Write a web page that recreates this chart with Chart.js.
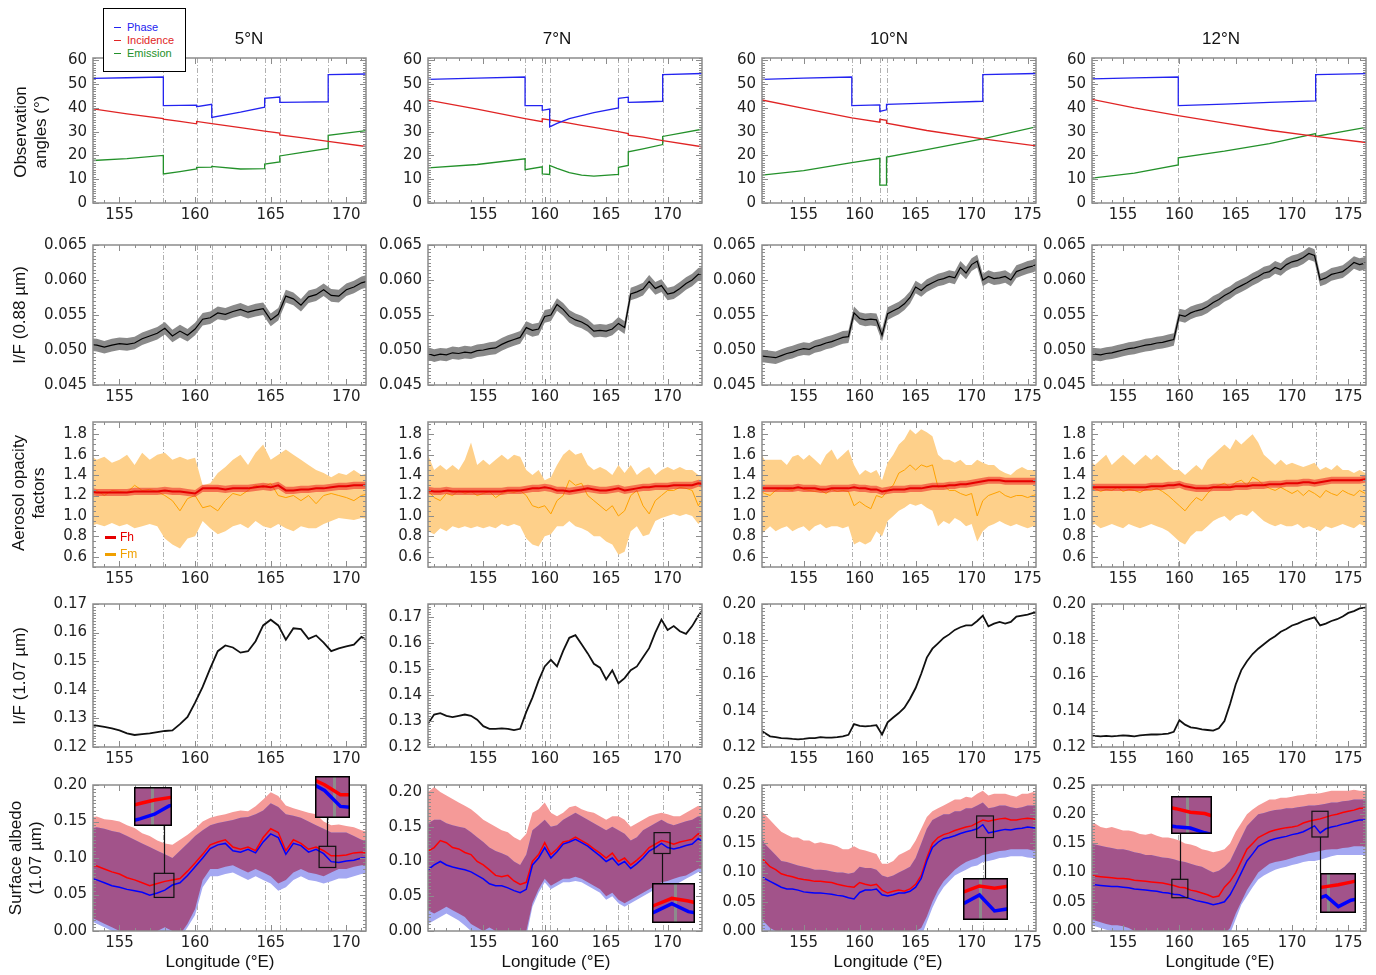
<!DOCTYPE html>
<html>
<head>
<meta charset="utf-8">
<script src="https://cdn.jsdelivr.net/npm/chart.js@4/dist/chart.umd.min.js"></script>
<style>
  body { margin: 0; background: #fff; width: 1376px; height: 975px; position: relative; overflow: hidden;
         font-family: "Liberation Sans", Arial, sans-serif; color: #111; }
  canvas { position: absolute; }
  .txt { position: absolute; white-space: nowrap; transform: translate(-50%, -50%); z-index: 5; }
  .rot { transform: translate(-50%, -50%) rotate(-90deg); text-align: center; line-height: 20px; }
</style>
</head>
<body>
<script>
// ---------- tick labels ----------
const angTicks = [0, 10, 20, 30, 40, 50, 60];
const nearTicks = [0.045, 0.050, 0.055, 0.060, 0.065];
const aerTicks = [0.6, 0.8, 1.0, 1.2, 1.4, 1.6, 1.8];
const farTicksA = [0.12, 0.13, 0.14, 0.15, 0.16, 0.17];
const farTicksB = [0.12, 0.14, 0.16, 0.18, 0.20];
const albTicksA = [0.00, 0.05, 0.10, 0.15, 0.20];
const albTicksB = [0.00, 0.05, 0.10, 0.15, 0.20, 0.25];
const lonTicksA = [155, 160, 165, 170];
const lonTicksB = [155, 160, 165, 170, 175];

// segment boundaries (°E)
const edges5 = [157.9, 160.1, 161.1, 164.6, 165.6, 168.8];
const edges7 = [158.4, 159.8, 160.4, 166.0, 166.8, 169.6];
const edges10 = [159.3, 161.8, 162.4, 171.0];
const edges12 = [159.9, 172.1];

// ---------- observation angles ----------
const angLon5 = [153.0, 155.5, 157.9, 157.9, 159.0, 160.1, 160.1, 161.1, 161.1, 163.0, 164.6, 164.6, 165.6, 165.6, 167.0, 168.8, 168.8, 171.5];
const phase5 = [52.4, 52.7, 53.0, 41.0, 41.1, 41.2, 40.5, 41.5, 36.0, 38.2, 40.3, 44.0, 44.6, 42.3, 42.4, 42.6, 54.0, 54.3];
const incid5 = [39.8, 37.5, 35.5, 35.3, 34.3, 33.3, 34.3, 33.4, 33.4, 31.7, 30.2, 30.2, 29.4, 28.6, 27.5, 25.9, 25.9, 23.6];
const emiss5 = [17.8, 18.7, 20.0, 12.2, 13.2, 14.3, 15.0, 15.1, 15.4, 14.3, 14.5, 16.4, 17.3, 19.8, 21.2, 23.0, 28.5, 30.6];

const angLon7 = [150.5, 154.5, 158.4, 158.4, 159.8, 159.8, 160.4, 160.4, 161.0, 162.0, 163.0, 164.0, 166.0, 166.0, 166.8, 166.8, 168.0, 169.6, 169.6, 173.0];
const phase7 = [52.0, 52.5, 53.0, 41.0, 41.0, 39.0, 39.5, 32.0, 33.5, 35.5, 36.8, 38.0, 40.0, 44.0, 44.5, 42.3, 42.5, 42.8, 54.0, 54.5];
const incid7 = [43.3, 39.5, 35.5, 35.5, 34.2, 35.4, 35.0, 35.0, 34.5, 33.6, 32.7, 31.8, 30.0, 30.0, 29.2, 28.5, 27.7, 26.2, 26.2, 23.5];
const emiss7 = [14.8, 16.2, 18.6, 14.0, 15.2, 12.2, 12.0, 15.8, 14.6, 12.8, 11.7, 11.3, 12.0, 15.0, 15.8, 21.5, 22.8, 24.6, 28.0, 31.2];

const angLon10 = [151.0, 155.0, 159.3, 159.3, 161.8, 161.8, 162.4, 162.4, 166.0, 171.0, 171.0, 176.0];
const phase10 = [52.0, 52.5, 53.0, 41.0, 41.3, 38.5, 39.2, 41.5, 42.0, 42.8, 54.0, 54.5];
const incid10 = [43.6, 39.8, 35.8, 35.8, 34.0, 35.2, 34.8, 33.6, 30.5, 27.0, 27.0, 23.9];
const emiss10 = [11.6, 13.6, 17.0, 17.0, 18.8, 7.5, 7.5, 19.3, 22.5, 27.0, 27.0, 32.3];

const angLon12 = [152.0, 156.0, 159.9, 159.9, 164.0, 168.0, 172.1, 172.1, 177.0];
const phase12 = [52.2, 52.6, 53.0, 41.0, 41.6, 42.3, 43.0, 54.0, 54.5];
const incid12 = [43.8, 40.0, 36.8, 36.8, 33.6, 30.6, 28.0, 28.0, 25.2];
const emiss12 = [10.3, 12.6, 16.0, 19.0, 21.8, 25.0, 29.2, 28.0, 32.2];

// ---------- 5°N profiles ----------
const lon5 = [153.0, 153.5, 154.0, 154.5, 155.0, 155.5, 156.0, 156.5, 157.0, 157.5, 158.0, 158.5, 159.0, 159.5, 160.0, 160.5, 161.0, 161.5, 162.0, 162.5,
  163.0, 163.5, 164.0, 164.5, 165.0, 165.5, 166.0, 166.5, 167.0, 167.5, 168.0, 168.5, 169.0, 169.5, 170.0, 170.5, 171.0, 171.5];
const ifNear5 = [.0508, .0507, .0504, .0507, .0509, .0508, .0510, .0516, .0520, .0524, .0531, .0520, .0527, .0521, .0530, .0544, .0546, .0553, .0551, .0555,
  .0558, .0554, .0557, .0559, .0543, .0551, .0577, .0573, .0564, .0576, .0579, .0586, .0578, .0577, .0586, .0590, .0596, .0599];
const fh5 = [1.24, 1.23, 1.23, 1.23, 1.23, 1.23, 1.24, 1.24, 1.24, 1.24, 1.25, 1.24, 1.24, 1.23, 1.22, 1.27, 1.27, 1.27, 1.26, 1.27,
  1.27, 1.27, 1.28, 1.29, 1.28, 1.30, 1.25, 1.25, 1.26, 1.26, 1.27, 1.27, 1.28, 1.29, 1.29, 1.30, 1.30, 1.30];
const fm5 = [1.22, 1.25, 1.20, 1.25, 1.24, 1.23, 1.30, 1.25, 1.26, 1.24, 1.20, 1.15, 1.05, 1.17, 1.20, 1.08, 1.10, 1.05, 1.15, 1.22,
  1.20, 1.25, 1.30, 1.28, 1.32, 1.20, 1.18, 1.20, 1.15, 1.20, 1.12, 1.20, 1.22, 1.20, 1.18, 1.15, 1.20, 1.22];
const fmHi5 = [1.60, 1.55, 1.58, 1.52, 1.55, 1.60, 1.50, 1.62, 1.55, 1.60, 1.62, 1.55, 1.58, 1.55, 1.57, 1.30, 1.32, 1.42, 1.48, 1.55,
  1.60, 1.50, 1.62, 1.70, 1.55, 1.60, 1.65, 1.60, 1.55, 1.50, 1.45, 1.42, 1.38, 1.42, 1.40, 1.45, 1.40, 1.42];
const fmLo5 = [0.90, 0.92, 0.90, 0.93, 0.90, 0.92, 0.88, 0.90, 0.92, 0.90, 0.78, 0.72, 0.68, 0.78, 0.80, 0.95, 0.88, 0.82, 0.85, 0.90,
  0.92, 0.88, 0.95, 0.90, 0.88, 0.92, 0.88, 0.85, 0.90, 0.88, 0.88, 0.92, 0.95, 0.98, 0.97, 0.96, 0.98, 0.97];
const ifFar5 = [.1275, .1275, .1270, .1265, .1258, .1248, .1242, .1245, .1248, .1252, .1256, .1258, .1280, .1305, .1355, .1410, .1475, .1535, .1555, .1548,
  .1530, .1535, .1570, .1625, .1645, .1625, .1575, .1615, .1612, .1578, .1590, .1565, .1535, .1545, .1552, .1558, .1585, .1570];
const albRed5 = [.090, .089, .085, .081, .078, .073, .070, .066, .062, .065, .068, .070, .072, .082, .093, .105, .118, .122, .125, .115,
  .112, .115, .110, .128, .140, .135, .110, .125, .120, .112, .115, .110, .103, .103, .104, .107, .108, .106];
const albBlue5 = [.073, .070, .066, .062, .060, .057, .055, .053, .049, .052, .056, .063, .066, .076, .088, .100, .113, .118, .120, .110,
  .108, .112, .107, .122, .133, .128, .105, .120, .117, .108, .112, .106, .095, .094, .096, .097, .100, .100];
const albRedHi5 = [.155, .157, .153, .152, .150, .145, .141, .134, .130, .124, .120, .118, .125, .132, .140, .150, .155, .158, .160, .163,
  .165, .164, .171, .180, .190, .185, .172, .168, .165, .162, .160, .150, .145, .146, .144, .142, .138, .135];
const albBlueHi5 = [.140, .142, .140, .137, .135, .130, .125, .120, .115, .110, .105, .100, .110, .120, .130, .138, .145, .148, .150, .152,
  .155, .156, .160, .165, .175, .170, .160, .158, .155, .150, .145, .140, .135, .135, .135, .130, .125, .122];
const albRedLo5 = [.020, .015, .010, .005, .000, .000, -.005, -.005, -.005, .000, .005, .000, -.005, .010, .030, .070, .085, .085, .088, .090,
  .085, .080, .085, .080, .075, .065, .070, .080, .085, .080, .078, .075, .080, .085, .085, .088, .090, .090];
const albBlueLo5 = [.015, .010, .005, .000, -.005, -.005, -.010, -.010, -.010, -.005, .000, -.005, -.010, .005, .022, .060, .075, .075, .078, .080,
  .075, .070, .075, .070, .065, .055, .060, .070, .075, .070, .068, .065, .068, .072, .072, .075, .078, .078];

// ---------- 7°N profiles ----------
const lon7 = [150.5, 151.0, 151.5, 152.0, 152.5, 153.0, 153.5, 154.0, 154.5, 155.0, 155.5, 156.0, 156.5, 157.0, 157.5, 158.0, 158.5, 159.0, 159.5, 160.0,
  160.5, 161.0, 161.5, 162.0, 162.5, 163.0, 163.5, 164.0, 164.5, 165.0, 165.5, 166.0, 166.5, 167.0, 167.5, 168.0, 168.5, 169.0, 169.5, 170.0,
  170.5, 171.0, 171.5, 172.0, 172.5, 173.0];
const ifNear7 = [.0495, .0492, .0494, .0493, .0496, .0495, .0497, .0496, .0499, .0500, .0502, .0503, .0508, .0512, .0515, .0518, .0532, .0528, .0530, .0548,
  .0550, .0565, .0558, .0548, .0543, .0540, .0535, .0527, .0528, .0527, .0530, .0538, .0532, .0580, .0583, .0587, .0598, .0588, .0592, .0580,
  .0582, .0588, .0595, .0600, .0608, .0610];
const fh7 = [1.25, 1.24, 1.24, 1.25, 1.24, 1.24, 1.24, 1.24, 1.24, 1.24, 1.24, 1.24, 1.24, 1.25, 1.25, 1.25, 1.26, 1.27, 1.27, 1.28,
  1.27, 1.25, 1.25, 1.24, 1.25, 1.26, 1.27, 1.26, 1.25, 1.25, 1.26, 1.27, 1.25, 1.26, 1.27, 1.28, 1.28, 1.29, 1.29, 1.29,
  1.30, 1.30, 1.30, 1.30, 1.32, 1.31];
const fm7 = [1.25, 1.18, 1.15, 1.22, 1.20, 1.25, 1.22, 1.24, 1.20, 1.22, 1.24, 1.18, 1.22, 1.24, 1.23, 1.25, 1.20, 1.10, 1.08, 1.10,
  1.02, 1.15, 1.20, 1.35, 1.30, 1.32, 1.20, 1.15, 1.10, 1.05, 1.10, 1.00, 1.05, 1.20, 1.25, 1.10, 1.02, 1.15, 1.20, 1.25,
  1.25, 1.28, 1.27, 1.25, 1.10, 1.20];
const fmHi7 = [1.60, 1.45, 1.50, 1.45, 1.50, 1.45, 1.55, 1.72, 1.50, 1.55, 1.50, 1.55, 1.60, 1.55, 1.60, 1.58, 1.45, 1.40, 1.45, 1.35,
  1.38, 1.50, 1.60, 1.65, 1.60, 1.62, 1.50, 1.45, 1.48, 1.45, 1.40, 1.50, 1.42, 1.50, 1.40, 1.45, 1.48, 1.40, 1.45, 1.48,
  1.45, 1.48, 1.45, 1.45, 1.40, 1.38];
const fmLo7 = [0.85, 0.82, 0.88, 0.85, 0.90, 0.88, 0.90, 0.88, 0.90, 0.88, 0.90, 0.88, 0.92, 0.90, 0.92, 0.90, 0.78, 0.72, 0.70, 0.80,
  0.82, 0.90, 0.90, 0.95, 0.90, 0.88, 0.85, 0.80, 0.80, 0.75, 0.72, 0.62, 0.65, 0.85, 0.90, 0.80, 0.82, 0.95, 0.98, 1.00,
  1.02, 1.00, 1.02, 1.00, 0.92, 0.98];
const ifFar7 = [.1290, .1325, .1330, .1320, .1315, .1320, .1325, .1320, .1305, .1280, .1270, .1270, .1272, .1270, .1265, .1270, .1335, .1390, .1455, .1510,
  .1535, .1510, .1570, .1620, .1630, .1595, .1560, .1520, .1505, .1460, .1495, .1445, .1465, .1495, .1510, .1545, .1580, .1640, .1690, .1650,
  .1665, .1645, .1635, .1665, .1705, .1735];
const albRed7 = [.115, .120, .130, .127, .120, .118, .113, .110, .100, .095, .088, .080, .078, .080, .072, .067, .070, .100, .110, .127,
  .110, .118, .128, .130, .135, .130, .125, .118, .112, .105, .112, .100, .105, .095, .102, .110, .120, .125, .130, .128,
  .125, .128, .130, .132, .140, .133];
const albBlue7 = [.088, .095, .100, .095, .092, .090, .088, .085, .080, .075, .068, .065, .065, .062, .058, .055, .060, .095, .105, .120,
  .105, .114, .125, .128, .132, .127, .122, .115, .108, .100, .105, .095, .100, .090, .097, .105, .115, .120, .126, .120,
  .118, .120, .123, .125, .133, .127];
const albRedHi7 = [.200, .207, .200, .195, .190, .185, .180, .175, .168, .160, .155, .150, .145, .142, .135, .130, .140, .170, .175, .185,
  .170, .165, .170, .178, .180, .175, .172, .170, .165, .160, .165, .165, .160, .150, .155, .160, .165, .168, .170, .168,
  .165, .165, .170, .175, .180, .175];
const albBlueHi7 = [.155, .160, .160, .155, .152, .150, .148, .142, .135, .128, .120, .115, .112, .108, .100, .095, .110, .145, .152, .160,
  .150, .152, .160, .165, .170, .165, .160, .155, .150, .145, .150, .145, .140, .130, .135, .145, .150, .155, .160, .155,
  .152, .155, .158, .160, .165, .160];
const albRedLo7 = [.030, .025, .030, .035, .030, .025, .020, .010, .005, .000, .005, .000, -.005, .000, -.005, -.005, .000, .040, .060, .075,
  .065, .070, .075, .075, .078, .075, .070, .065, .060, .050, .055, .045, .040, .045, .050, .055, .060, .065, .070, .072,
  .075, .078, .080, .085, .090, .088];
const albBlueLo7 = [.010, .015, .020, .025, .020, .015, .008, .000, -.005, -.008, -.005, -.008, -.010, -.008, -.010, -.010, -.008, .035, .055, .070,
  .060, .065, .070, .070, .072, .070, .065, .060, .055, .045, .050, .040, .035, .040, .045, .050, .055, .060, .065, .065,
  .065, .070, .075, .080, .085, .080];

// ---------- 10°N profiles ----------
const lon10 = [151.0, 151.5, 152.0, 152.5, 153.0, 153.5, 154.0, 154.5, 155.0, 155.5, 156.0, 156.5, 157.0, 157.5, 158.0, 158.5, 159.0, 159.5, 160.0, 160.5,
  161.0, 161.5, 162.0, 162.5, 163.0, 163.5, 164.0, 164.5, 165.0, 165.5, 166.0, 166.5, 167.0, 167.5, 168.0, 168.5, 169.0, 169.5, 170.0, 170.5,
  171.0, 171.5, 172.0, 172.5, 173.0, 173.5, 174.0, 174.5, 175.0, 175.5, 176.0];
const ifNear10 = [.0492, .0491, .0490, .0489, .0492, .0495, .0497, .0500, .0502, .0501, .0505, .0507, .0510, .0512, .0515, .0518, .0519, .0553, .0545, .0543,
  .0544, .0543, .0521, .0552, .0556, .0560, .0566, .0575, .0590, .0585, .0592, .0596, .0600, .0602, .0605, .0603, .0618, .0610, .0622, .0627,
  .0600, .0605, .0602, .0603, .0605, .0600, .0612, .0615, .0618, .0620, .0624];
const fh10 = [1.27, 1.27, 1.27, 1.27, 1.27, 1.27, 1.27, 1.28, 1.27, 1.27, 1.27, 1.26, 1.26, 1.27, 1.27, 1.27, 1.27, 1.28, 1.27, 1.27,
  1.26, 1.26, 1.24, 1.25, 1.26, 1.26, 1.26, 1.27, 1.27, 1.27, 1.28, 1.29, 1.29, 1.29, 1.30, 1.30, 1.31, 1.31, 1.32, 1.33,
  1.34, 1.35, 1.35, 1.35, 1.34, 1.34, 1.34, 1.34, 1.34, 1.34, 1.34];
const fm10 = [1.25, 1.22, 1.20, 1.25, 1.27, 1.26, 1.25, 1.28, 1.26, 1.25, 1.24, 1.25, 1.22, 1.26, 1.24, 1.25, 1.24, 1.10, 1.14, 1.10,
  1.07, 1.20, 1.18, 1.25, 1.30, 1.42, 1.45, 1.50, 1.45, 1.50, 1.48, 1.50, 1.28, 1.30, 1.25, 1.25, 1.22, 1.20, 1.22, 1.00,
  1.15, 1.20, 1.22, 1.24, 1.20, 1.18, 1.20, 1.20, 1.18, 1.20, 1.22];
const fmHi10 = [1.65, 1.55, 1.55, 1.55, 1.55, 1.50, 1.58, 1.60, 1.55, 1.60, 1.55, 1.50, 1.60, 1.65, 1.55, 1.60, 1.65, 1.50, 1.40, 1.45,
  1.42, 1.45, 1.35, 1.52, 1.60, 1.70, 1.75, 1.85, 1.80, 1.85, 1.82, 1.78, 1.60, 1.55, 1.55, 1.52, 1.55, 1.50, 1.50, 1.55,
  1.52, 1.50, 1.50, 1.45, 1.42, 1.40, 1.45, 1.48, 1.45, 1.45, 1.42];
const fmLo10 = [0.80, 0.85, 0.90, 0.85, 0.88, 0.90, 0.85, 0.88, 0.90, 0.85, 0.90, 0.92, 0.88, 0.90, 0.90, 0.88, 0.90, 0.72, 0.75, 0.72,
  0.75, 0.85, 0.80, 0.95, 1.00, 1.05, 1.08, 1.12, 1.10, 1.12, 1.08, 1.05, 0.90, 0.95, 0.92, 0.98, 0.95, 0.90, 0.92, 0.75,
  0.85, 0.90, 0.92, 0.95, 0.92, 0.90, 0.92, 0.90, 0.88, 0.90, 0.90];
const ifFar10 = [.1300, .1280, .1260, .1255, .1250, .1248, .1245, .1243, .1245, .1250, .1250, .1255, .1253, .1252, .1255, .1260, .1268, .1328, .1318, .1315,
  .1318, .1322, .1270, .1338, .1365, .1390, .1420, .1470, .1530, .1610, .1700, .1750, .1780, .1810, .1830, .1855, .1870, .1880, .1880, .1905,
  .1935, .1875, .1890, .1900, .1890, .1900, .1930, .1935, .1940, .1950, .1955];
const albRed10 = [.130, .120, .110, .105, .098, .095, .093, .090, .088, .087, .085, .085, .084, .083, .080, .078, .076, .075, .083, .080,
  .078, .080, .070, .065, .068, .070, .068, .072, .080, .095, .125, .150, .160, .165, .168, .172, .175, .178, .180, .185,
  .190, .188, .190, .192, .193, .190, .190, .192, .193, .192, .190];
const albBlue10 = [.098, .090, .085, .080, .075, .072, .072, .070, .067, .066, .065, .065, .064, .063, .061, .060, .057, .055, .066, .070,
  .070, .072, .062, .060, .062, .065, .065, .068, .075, .090, .120, .143, .152, .158, .160, .163, .167, .170, .172, .175,
  .182, .168, .170, .172, .174, .173, .175, .176, .178, .177, .176];
const albRedHi10 = [.210, .200, .190, .180, .170, .165, .160, .160, .155, .155, .150, .152, .150, .148, .145, .140, .140, .145, .140, .138,
  .135, .132, .115, .115, .120, .130, .135, .140, .155, .175, .195, .205, .210, .215, .220, .225, .225, .230, .228, .235,
  .240, .232, .235, .235, .235, .232, .230, .235, .235, .238, .235];
const albBlueHi10 = [.170, .150, .140, .130, .120, .118, .115, .112, .110, .108, .105, .105, .104, .102, .100, .100, .098, .100, .110, .108,
  .108, .105, .095, .092, .095, .100, .105, .110, .125, .150, .175, .190, .195, .200, .200, .205, .205, .210, .210, .215,
  .220, .210, .212, .215, .215, .212, .210, .212, .215, .215, .212];
const albRedLo10 = [.030, .015, .005, .000, -.005, .000, -.005, .000, -.005, -.005, -.005, -.005, -.005, -.005, -.005, -.005, -.005, -.005, -.005, -.005,
  -.005, -.005, -.005, -.005, -.005, -.005, -.005, -.005, .000, .005, .025, .050, .070, .085, .095, .105, .112, .118, .122, .125,
  .130, .132, .135, .137, .138, .140, .140, .140, .140, .138, .138];
const albBlueLo10 = [.005, .000, -.010, -.010, -.010, -.010, -.010, -.010, -.010, -.010, -.010, -.010, -.010, -.010, -.010, -.010, -.010, -.010, -.010, -.010,
  -.010, -.010, -.010, -.010, -.010, -.010, -.010, -.010, -.010, -.010, .015, .040, .060, .075, .085, .095, .100, .105, .110, .112,
  .118, .120, .122, .125, .126, .128, .128, .128, .126, .125, .125];

// ---------- 12°N profiles ----------
const lon12 = [152.0, 152.5, 153.0, 153.5, 154.0, 154.5, 155.0, 155.5, 156.0, 156.5, 157.0, 157.5, 158.0, 158.5, 159.0, 159.5, 160.0, 160.5, 161.0, 161.5,
  162.0, 162.5, 163.0, 163.5, 164.0, 164.5, 165.0, 165.5, 166.0, 166.5, 167.0, 167.5, 168.0, 168.5, 169.0, 169.5, 170.0, 170.5, 171.0, 171.5,
  172.0, 172.5, 173.0, 173.5, 174.0, 174.5, 175.0, 175.5, 176.0, 176.5, 177.0];
const ifNear12 = [.0495, .0494, .0493, .0495, .0496, .0498, .0500, .0502, .0503, .0505, .0507, .0508, .0510, .0511, .0513, .0515, .0550, .0548, .0553, .0556,
  .0558, .0562, .0568, .0572, .0578, .0582, .0588, .0592, .0596, .0601, .0605, .0610, .0612, .0618, .0615, .0622, .0626, .0628, .0632, .0638,
  .0635, .0600, .0603, .0608, .0610, .0612, .0618, .0625, .0622, .0624, .0626];
const fh12 = [1.28, 1.28, 1.28, 1.28, 1.28, 1.28, 1.28, 1.28, 1.28, 1.28, 1.28, 1.29, 1.29, 1.29, 1.30, 1.30, 1.31, 1.29, 1.28, 1.27,
  1.27, 1.27, 1.28, 1.28, 1.28, 1.28, 1.29, 1.29, 1.29, 1.30, 1.30, 1.30, 1.31, 1.31, 1.31, 1.32, 1.32, 1.32, 1.33, 1.33,
  1.32, 1.33, 1.34, 1.35, 1.35, 1.35, 1.35, 1.35, 1.35, 1.36, 1.36];
const fm12 = [1.25, 1.27, 1.24, 1.26, 1.25, 1.28, 1.24, 1.26, 1.25, 1.23, 1.26, 1.25, 1.27, 1.24, 1.20, 1.15, 1.10, 1.05, 1.12, 1.18,
  1.15, 1.22, 1.28, 1.30, 1.32, 1.28, 1.33, 1.35, 1.30, 1.38, 1.35, 1.30, 1.27, 1.25, 1.28, 1.25, 1.22, 1.25, 1.20, 1.25,
  1.22, 1.18, 1.25, 1.22, 1.20, 1.25, 1.22, 1.20, 1.25, 1.22, 1.25];
const fmHi12 = [1.55, 1.50, 1.55, 1.60, 1.50, 1.55, 1.60, 1.55, 1.50, 1.55, 1.60, 1.55, 1.60, 1.55, 1.50, 1.45, 1.45, 1.40, 1.45, 1.50,
  1.45, 1.55, 1.60, 1.65, 1.70, 1.65, 1.75, 1.70, 1.75, 1.80, 1.72, 1.60, 1.55, 1.50, 1.55, 1.50, 1.52, 1.50, 1.48, 1.50,
  1.52, 1.45, 1.48, 1.45, 1.50, 1.45, 1.45, 1.42, 1.45, 1.42, 1.45];
const fmLo12 = [0.90, 0.92, 0.88, 0.90, 0.92, 0.90, 0.88, 0.92, 0.90, 0.88, 0.90, 0.92, 0.90, 0.88, 0.85, 0.80, 0.75, 0.72, 0.80, 0.85,
  0.85, 0.90, 0.95, 0.98, 1.00, 0.95, 1.00, 1.02, 1.00, 1.05, 1.00, 0.95, 0.92, 0.90, 0.92, 0.90, 0.90, 0.92, 0.88, 0.90,
  0.88, 0.85, 0.90, 0.88, 0.90, 0.92, 0.90, 0.88, 0.92, 0.90, 0.92];
const ifFar12 = [.1265, .1262, .1260, .1262, .1260, .1262, .1265, .1263, .1260, .1265, .1268, .1270, .1270, .1272, .1275, .1285, .1350, .1325, .1310, .1305,
  .1298, .1295, .1292, .1305, .1345, .1440, .1550, .1630, .1680, .1720, .1750, .1775, .1800, .1820, .1845, .1860, .1880, .1890, .1905, .1915,
  .1925, .1880, .1890, .1905, .1915, .1930, .1950, .1960, .1975, .1980, .1980];
const albRed12 = [.095, .094, .093, .092, .091, .090, .090, .089, .087, .086, .085, .084, .083, .082, .080, .078, .075, .074, .070, .068,
  .065, .062, .058, .060, .075, .085, .100, .120, .140, .150, .160, .165, .170, .173, .175, .177, .178, .180, .185, .188,
  .190, .192, .195, .198, .200, .203, .205, .207, .210, .210, .212];
const albBlue12 = [.080, .079, .078, .077, .076, .076, .075, .074, .072, .071, .070, .069, .068, .066, .065, .063, .062, .058, .055, .052,
  .050, .048, .045, .047, .050, .062, .080, .100, .120, .132, .145, .150, .155, .158, .160, .162, .165, .167, .170, .175,
  .180, .168, .175, .178, .180, .183, .185, .188, .190, .190, .192];
const albRedHi12 = [.180, .184, .178, .176, .178, .175, .172, .172, .170, .166, .165, .167, .163, .160, .160, .158, .155, .150, .148, .145,
  .140, .138, .135, .137, .140, .150, .170, .185, .200, .208, .215, .220, .225, .225, .228, .228, .230, .232, .233, .235,
  .235, .236, .238, .240, .240, .240, .240, .242, .240, .240, .240];
const albBlueHi12 = [.150, .148, .146, .144, .142, .140, .140, .138, .135, .133, .130, .130, .128, .126, .125, .123, .120, .118, .115, .112,
  .110, .105, .100, .103, .110, .120, .140, .160, .180, .190, .200, .202, .205, .207, .208, .210, .210, .212, .213, .215,
  .215, .216, .218, .220, .220, .222, .223, .225, .225, .225, .225];
const albRedLo12 = [.020, .018, .015, .012, .010, .010, .008, .005, .000, -.005, -.005, -.005, -.005, -.005, -.005, -.005, -.005, -.005, -.005, -.005,
  -.005, -.005, -.005, -.005, -.005, .005, .030, .050, .070, .085, .100, .108, .115, .118, .120, .122, .125, .128, .130, .133,
  .135, .137, .139, .140, .140, .142, .143, .145, .145, .145, .145];
const albBlueLo12 = [.010, .008, .005, .002, .000, -.005, -.005, -.005, -.005, -.005, -.005, -.005, -.005, -.005, -.005, -.005, -.005, -.005, -.005, -.005,
  -.005, -.005, -.005, -.005, -.005, -.005, .020, .045, .060, .075, .088, .095, .100, .105, .108, .110, .113, .115, .118, .120,
  .120, .122, .125, .128, .130, .130, .130, .130, .130, .130, .130];

const nearErr = 0.0009;   // 0.88 µm I/F uncertainty
const fhErr = 0.035;      // Fh uncertainty

// ---------- page layout ----------
const colBox = [[93, 366], [428, 702], [762, 1036], [1092, 1366]];
const rowBox = [[58, 203], [245, 385], [422, 567], [604, 747], [785, 931]];
const LEFT = 60, RIGHT = 12, TOP = 12, BOTTOM = 26;
const tickFont = { family: 'DejaVu Sans', size: 15 };

const pts = (lon, v) => lon.map((x, i) => ({ x, y: v[i] }));
const line = (lon, v, color, width, order) =>
  ({ data: pts(lon, v), borderColor: color, borderWidth: width, pointRadius: 0, fill: false, order });
const band = (lon, hi, lo, color, order) => [
  { data: pts(lon, hi), borderColor: 'rgba(0,0,0,0)', borderWidth: 1, pointRadius: 0, backgroundColor: color, fill: '+1', order },
  { data: pts(lon, lo), borderColor: 'rgba(0,0,0,0)', borderWidth: 1, pointRadius: 0, fill: false, order }
];

// inward ticks on all four sides + frame
const framePlugin = {
  id: 'frame',
  afterDatasetsDraw(chart, args, o) {
    const { ctx, chartArea: a, scales: { x, y } } = chart;
    const marks = (s, minor, every, cb) => {
      const k0 = Math.ceil(s.min / minor - 1e-6), k1 = Math.floor(s.max / minor + 1e-6);
      for (let k = k0; k <= k1; k++) cb(s.getPixelForValue(k * minor), k % every === 0 ? 6 : 3);
    };
    ctx.save();
    ctx.strokeStyle = '#8c8c8c';
    ctx.lineWidth = 1;
    ctx.beginPath();
    marks(x, o.xMinor, o.xEvery, (p, len) => {
      p = Math.round(p) + 0.5;
      ctx.moveTo(p, a.bottom); ctx.lineTo(p, a.bottom - len);
      ctx.moveTo(p, a.top); ctx.lineTo(p, a.top + len);
    });
    marks(y, o.yMinor, o.yEvery, (p, len) => {
      p = Math.round(p) + 0.5;
      ctx.moveTo(a.left, p); ctx.lineTo(a.left + len, p);
      ctx.moveTo(a.right, p); ctx.lineTo(a.right - len, p);
    });
    ctx.stroke();
    ctx.lineWidth = 1.5;
    ctx.strokeRect(a.left, a.top, a.right - a.left, a.bottom - a.top);
    ctx.restore();
  }
};

// dash-dot lines at segment boundaries
const boundsPlugin = {
  id: 'bounds',
  beforeDatasetsDraw(chart, args, o) {
    const { ctx, chartArea: a, scales: { x } } = chart;
    ctx.save();
    ctx.strokeStyle = o.color;
    ctx.lineWidth = o.width;
    ctx.setLineDash(o.dash);
    for (const v of o.at) {
      const p = Math.round(x.getPixelForValue(v)) + 0.5;
      ctx.beginPath(); ctx.moveTo(p, a.top); ctx.lineTo(p, a.bottom); ctx.stroke();
    }
    ctx.restore();
  }
};

// zoom windows and their leader lines
const zoomPlugin = {
  id: 'zooms',
  afterDatasetsDraw(chart, args, o) {
    if (!o.list.length) return;
    const { ctx, scales: { x, y } } = chart;
    const oy = parseFloat(chart.canvas.style.top);
    ctx.save();
    ctx.strokeStyle = '#111';
    ctx.lineWidth = 1.2;
    for (const z of o.list) {
      const x0 = x.getPixelForValue(z.lon[0]), x1 = x.getPixelForValue(z.lon[1]);
      const y0 = y.getPixelForValue(z.alb[1]), y1 = y.getPixelForValue(z.alb[0]);
      ctx.strokeRect(x0, y0, x1 - x0, y1 - y0);
      const cx = Math.round((x0 + x1) / 2) + 0.5;
      const top = z.box[1] - oy, bot = z.box[1] + z.box[3] - oy;
      ctx.beginPath();
      if (bot < y0) { ctx.moveTo(cx, y0); ctx.lineTo(cx, bot); }
      else { ctx.moveTo(cx, y1); ctx.lineTo(cx, top); }
      ctx.stroke();
    }
    ctx.restore();
  }
};

const insetBg = {
  id: 'insetBg',
  beforeDraw(chart) {
    const { ctx, width, height } = chart;
    ctx.save(); ctx.fillStyle = '#a2538a'; ctx.fillRect(0, 0, width, height); ctx.restore();
  },
  afterDraw(chart) {
    const { ctx, width, height } = chart;
    ctx.save(); ctx.strokeStyle = '#000'; ctx.lineWidth = 1.5;
    ctx.strokeRect(0.75, 0.75, width - 1.5, height - 1.5); ctx.restore();
  }
};

function canvasAt(x, y, w, h) {
  const cv = document.createElement('canvas');
  cv.width = w; cv.height = h;
  Object.assign(cv.style, { left: x + 'px', top: y + 'px', width: w + 'px', height: h + 'px' });
  document.body.appendChild(cv);
  return cv;
}

function panel(ci, ri, p) {
  const [l, r] = colBox[ci], [t, b] = rowBox[ri];
  const cv = canvasAt(l - LEFT, t - TOP, r - l + LEFT + RIGHT, b - t + TOP + BOTTOM);
  return new Chart(cv, {
    type: 'line',
    data: { datasets: p.datasets },
    options: {
      responsive: false, animation: false, devicePixelRatio: 1, events: [],
      layout: { padding: { top: TOP, right: RIGHT, left: 0, bottom: 0 } },
      elements: { point: { radius: 0 }, line: { tension: 0 } },
      plugins: {
        legend: { display: false }, tooltip: { enabled: false },
        frame: { xMinor: 1, xEvery: 5, yMinor: p.yMinor, yEvery: p.yEvery },
        bounds: { at: p.edges, color: '#b0b0b0', width: 1, dash: [5, 2, 1, 2] },
        zooms: { list: p.zooms || [] }
      },
      scales: {
        x: {
          type: 'linear', min: p.xMin, max: p.xMax,
          grid: { display: false, drawTicks: false }, border: { display: false },
          afterBuildTicks: s => { s.ticks = p.xTicks.map(v => ({ value: v })); },
          afterFit: s => { s.height = BOTTOM; s.paddingLeft = 0; s.paddingRight = 0; },
          ticks: { autoSkip: false, maxRotation: 0, padding: 3, color: '#222', font: tickFont, callback: v => String(v) }
        },
        y: {
          type: 'linear', min: p.yMin, max: p.yMax,
          grid: { display: false, drawTicks: false }, border: { display: false },
          afterBuildTicks: s => { s.ticks = p.yTicks.map(v => ({ value: v })); },
          afterFit: s => { s.width = LEFT; s.paddingTop = 0; s.paddingBottom = 0; },
          ticks: { autoSkip: false, padding: 6, color: '#222', font: tickFont, callback: v => v.toFixed(p.dec) }
        }
      }
    },
    plugins: [framePlugin, boundsPlugin, zoomPlugin]
  });
}

function inset(lon, red, blue, edges, z) {
  const cv = canvasAt(z.box[0], z.box[1], z.box[2], z.box[3]);
  cv.style.zIndex = 3;
  return new Chart(cv, {
    type: 'line',
    data: { datasets: [line(lon, blue, '#0000ff', 3.5, 1), line(lon, red, '#ff0000', 3.5, 2)] },
    options: {
      responsive: false, animation: false, devicePixelRatio: 1, events: [],
      layout: { padding: 0 },
      plugins: { legend: { display: false }, tooltip: { enabled: false },
        bounds: { at: edges, color: '#8c8c8c', width: 3, dash: [] } },
      scales: {
        x: { type: 'linear', display: false, min: z.lon[0], max: z.lon[1] },
        y: { type: 'linear', display: false, min: z.alb[0], max: z.alb[1] }
      }
    },
    plugins: [insetBg, boundsPlugin]
  });
}

const columns = [
  { title: '5°N', tx: 249, lon: lon5, xMin: 153.25, xMax: 171.3, xTicks: lonTicksA, edges: edges5,
    ang: [angLon5, phase5, incid5, emiss5], near: ifNear5, fh: fh5, fm: fm5, fmHi: fmHi5, fmLo: fmLo5,
    far: ifFar5, farMax: 0.17, farTicks: farTicksA, farMinor: 0.001,
    alb: [albRed5, albBlue5, albRedHi5, albRedLo5, albBlueHi5, albBlueLo5], albMax: 0.20, albTicks: albTicksA,
    zooms: [{ lon: [157.3, 158.6], alb: [0.046, 0.079], box: [134, 787, 38, 39] },
            { lon: [168.2, 169.3], alb: [0.087, 0.116], box: [315, 776, 35, 42] }] },
  { title: '7°N', tx: 557, lon: lon7, xMin: 150.5, xMax: 172.8, xTicks: lonTicksA, edges: edges7,
    ang: [angLon7, phase7, incid7, emiss7], near: ifNear7, fh: fh7, fm: fm7, fmHi: fmHi7, fmLo: fmLo7,
    far: ifFar7, farMax: 0.175, farTicks: farTicksA, farMinor: 0.001,
    alb: [albRed7, albBlue7, albRedHi7, albRedLo7, albBlueHi7, albBlueLo7], albMax: 0.21, albTicks: albTicksA,
    zooms: [{ lon: [168.9, 170.2], alb: [0.1115, 0.1415], box: [652, 883, 43, 40] }] },
  { title: '10°N', tx: 889, lon: lon10, xMin: 151.28, xMax: 175.75, xTicks: lonTicksB, edges: edges10,
    ang: [angLon10, phase10, incid10, emiss10], near: ifNear10, fh: fh10, fm: fm10, fmHi: fmHi10, fmLo: fmLo10,
    far: ifFar10, farMax: 0.20, farTicks: farTicksB, farMinor: 0.002,
    alb: [albRed10, albBlue10, albRedHi10, albRedLo10, albBlueHi10, albBlueLo10], albMax: 0.25, albTicks: albTicksB,
    zooms: [{ lon: [170.45, 171.95], alb: [0.160, 0.197], box: [963, 878, 45, 42] }] },
  { title: '12°N', tx: 1221, lon: lon12, xMin: 152.24, xMax: 176.57, xTicks: lonTicksB, edges: edges12,
    ang: [angLon12, phase12, incid12, emiss12], near: ifNear12, fh: fh12, fm: fm12, fmHi: fmHi12, fmLo: fmLo12,
    far: ifFar12, farMax: 0.20, farTicks: farTicksB, farMinor: 0.002,
    alb: [albRed12, albBlue12, albRedHi12, albRedLo12, albBlueHi12, albBlueLo12], albMax: 0.25, albTicks: albTicksB,
    zooms: [{ lon: [159.33, 160.75], alb: [0.057, 0.0885], box: [1171, 796, 41, 38] },
            { lon: [171.77, 173.2], alb: [0.161, 0.205], box: [1320, 873, 36, 40] }] }
];

columns.forEach((c, ci) => {
  const common = { xMin: c.xMin, xMax: c.xMax, xTicks: c.xTicks, edges: c.edges };
  const [aLon, ph, inc, emi] = c.ang;

  panel(ci, 0, { ...common, yMin: 0, yMax: 61, yTicks: angTicks, dec: 0, yMinor: 1, yEvery: 10,
    datasets: [line(aLon, ph, '#2323f0', 1.3, 1), line(aLon, inc, '#e02424', 1.3, 2), line(aLon, emi, '#23912a', 1.3, 3)] });

  panel(ci, 1, { ...common, yMin: 0.045, yMax: 0.065, yTicks: nearTicks, dec: 3, yMinor: 0.0005, yEvery: 10,
    datasets: [line(c.lon, c.near, '#000', 1.2, 1),
      ...band(c.lon, c.near.map(v => v + nearErr), c.near.map(v => v - nearErr), '#8a8a8a', 5)] });

  panel(ci, 2, { ...common, yMin: 0.5, yMax: 1.92, yTicks: aerTicks, dec: 1, yMinor: 0.05, yEvery: 4,
    datasets: [line(c.lon, c.fh, '#e60000', 2, 1),
      ...band(c.lon, c.fh.map(v => v + fhErr), c.fh.map(v => v - fhErr), 'rgba(238,50,40,0.6)', 2),
      line(c.lon, c.fm, '#ffa200', 1, 3),
      ...band(c.lon, c.fmHi, c.fmLo, '#fed08a', 6)] });

  panel(ci, 3, { ...common, yMin: 0.12, yMax: c.farMax, yTicks: c.farTicks, dec: 2, yMinor: c.farMinor, yEvery: 10,
    datasets: [line(c.lon, c.far, '#111', 1.8, 1)] });

  const [red, blue, rHi, rLo, bHi, bLo] = c.alb;
  const ovHi = rHi.map((v, i) => Math.min(v, bHi[i]));
  const ovLo = rLo.map((v, i) => Math.max(v, bLo[i]));
  panel(ci, 4, { ...common, yMin: 0, yMax: c.albMax, yTicks: c.albTicks, dec: 2, yMinor: 0.005, yEvery: 10, zooms: c.zooms,
    datasets: [line(c.lon, blue, '#0000ff', 1.5, 1), line(c.lon, red, '#ff0000', 1.5, 2),
      ...band(c.lon, ovHi, ovLo, '#a2538a', 4),
      ...band(c.lon, bHi, bLo, '#a4a8f2', 5),
      ...band(c.lon, rHi, rLo, '#f59a98', 6)] });

  c.zooms.forEach(z => inset(c.lon, red, blue, c.edges, z));
});

// ---------- text ----------
function label(html, x, y, css, rotate) {
  const d = document.createElement('div');
  d.className = 'txt' + (rotate ? ' rot' : '');
  d.innerHTML = html;
  d.style.left = x + 'px';
  d.style.top = y + 'px';
  Object.assign(d.style, css || {});
  document.body.appendChild(d);
  return d;
}
const titleCss = { fontSize: '17px' };
columns.forEach(c => label(c.title, c.tx, 39, titleCss));
[220, 556, 888, 1220].forEach(x => label('Longitude (°E)', x, 962, titleCss));
label('Observation<br>angles (°)', 31, 132, titleCss, true);
label('I/F (0.88 µm)', 20, 315, titleCss, true);
label('Aerosol opacity<br>factors', 29, 493, titleCss, true);
label('I/F (1.07 µm)', 20, 676, titleCss, true);
label('Surface albedo<br>(1.07 µm)', 26, 858, titleCss, true);

// angle legend
const box = document.createElement('div');
Object.assign(box.style, { position: 'absolute', left: '103px', top: '8px', width: '81px', height: '62px',
  border: '1px solid #000', background: '#fff', zIndex: 6 });
document.body.appendChild(box);
[['Phase', '#2323f0', 27], ['Incidence', '#e02424', 40], ['Emission', '#23912a', 53]].forEach(([t, col, y]) => {
  const s = document.createElement('div');
  Object.assign(s.style, { position: 'absolute', left: '114px', top: (y - 0.5) + 'px', width: '7px', height: '1.2px', background: col, zIndex: 7 });
  document.body.appendChild(s);
  label(t, 127, y, { fontSize: '11px', color: col, transform: 'translate(0,-50%)', zIndex: 7 });
});

// Fh / Fm legend
[['Fh', '#e60000', 537], ['Fm', '#f0a000', 554]].forEach(([t, col, y]) => {
  const s = document.createElement('div');
  Object.assign(s.style, { position: 'absolute', left: '105px', top: (y - 1) + 'px', width: '11px', height: '2.5px', background: col, zIndex: 7 });
  document.body.appendChild(s);
  label(t, 120, y, { fontSize: '12px', color: col, transform: 'translate(0,-50%)' });
});
</script>
</body>
</html>
